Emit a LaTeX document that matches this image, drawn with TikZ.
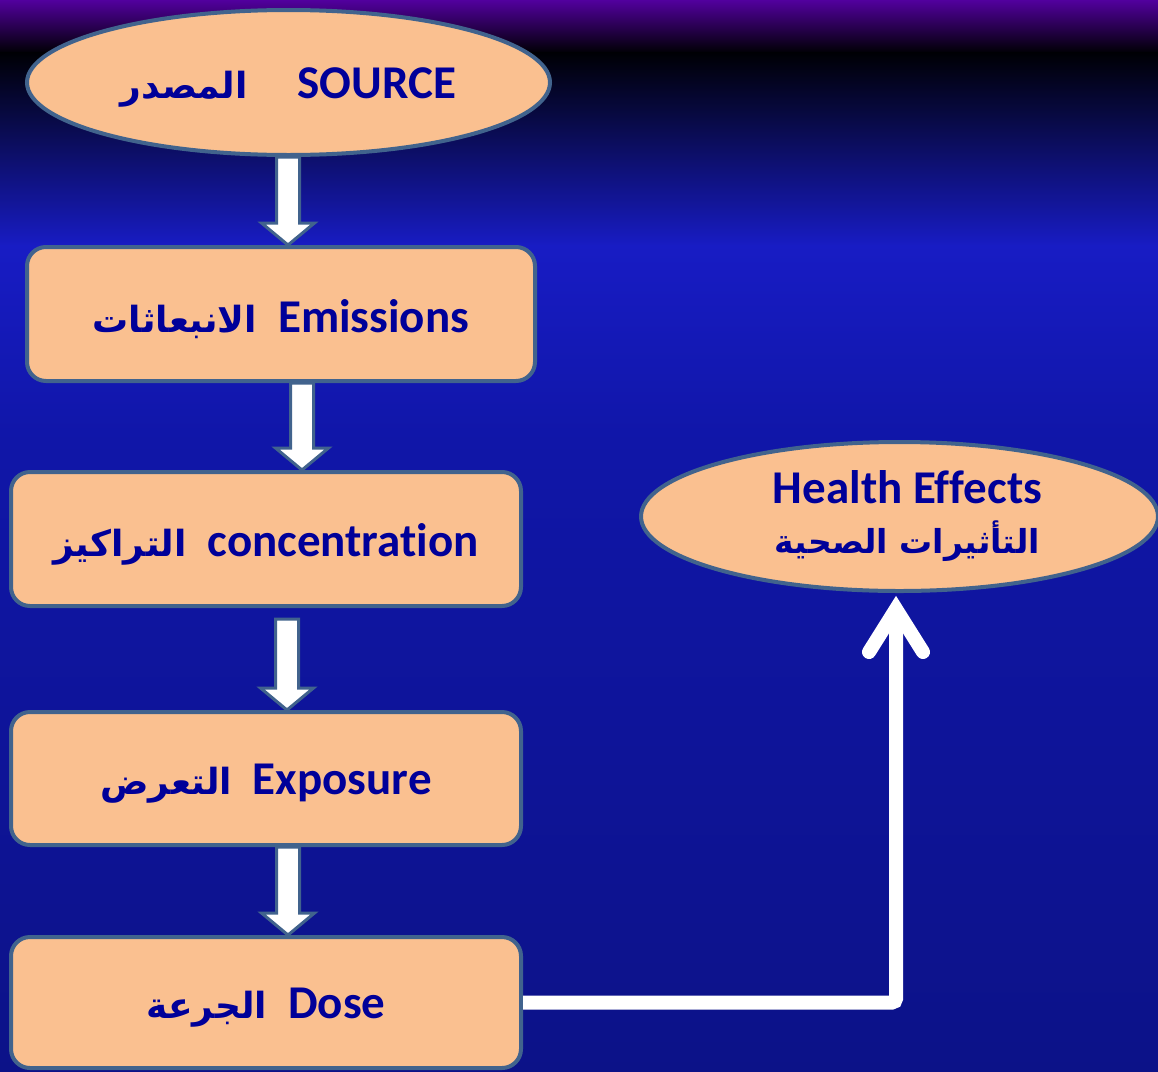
\documentclass[tikz,border=0pt]{standalone}
\usepackage{fontspec}
\setmainfont[Ligatures=NoCommon]{Carlito}
\newfontfamily\arabicfont[Script=Arabic]{DejaVu Sans}
\TeXXeTstate=1
\usetikzlibrary{shapes.geometric,calc}
\definecolor{peach}{HTML}{FAC090}
\definecolor{edgeblue}{HTML}{41638D}
\definecolor{txtblue}{HTML}{000099}
\definecolor{bgA}{HTML}{52009E}
\definecolor{bgB}{HTML}{000004}
\definecolor{bgC}{HTML}{181CC4}
\definecolor{bgD}{HTML}{1016A8}
\definecolor{bgE}{HTML}{0C1288}
\newcommand\blkarrow[2]{%
  \draw[blkarr] ($(#1)+(-11.5,0)$) -- ($(#2)+(-11.5,-22)$) -- ($(#2)+(-26.5,-22)$) -- (#2)
    -- ($(#2)+(26.5,-22)$) -- ($(#2)+(11.5,-22)$) -- ($(#1)+(11.5,0)$) -- cycle;}
\newcommand\ar[2][36]{{\arabicfont\fontsize{#1}{44}\selectfont\beginR #2\endR}}
\newcommand\lowered[1]{\raisebox{-5pt}[\height][\depth]{#1}}
\tikzset{
  shapebox/.style={draw=edgeblue, line width=4pt, fill=peach, text=txtblue,
    font=\fontsize{47}{54}\selectfont\bfseries, inner sep=0pt},
  ovalbox/.style={shapebox, ellipse},
  rectbox/.style={shapebox, rectangle, rounded corners=19pt},
  blkarr/.style={draw=edgeblue, line width=3pt, fill=white, line join=miter},
  conn/.style={draw=white, line width=14pt}
}
\begin{document}
\begin{tikzpicture}[x=1pt,y=-1pt]
\useasboundingbox (0,0) rectangle (1158,1071);
% background
\fill[top color=bgA, bottom color=bgB] (0,0) rectangle (1158,53);
\fill[top color=bgB, bottom color=bgC] (0,52) rectangle (1158,246);
\fill[top color=bgC, bottom color=bgD] (0,245) rectangle (1158,440);
\fill[top color=bgD, bottom color=bgE] (0,439) rectangle (1158,1071);
% nodes
\node[ovalbox, minimum width=523pt, minimum height=145pt] (src) at (288.5,82.5)
  {\lowered{\ar{المصدر}\hspace{50pt}SOURCE}};
\node[rectbox, minimum width=508pt, minimum height=134pt] (emi) at (281,314)
  {\lowered{\ar{الانبعاثات}\hspace{21pt}Emissions}};
\node[rectbox, minimum width=510pt, minimum height=134pt] (con) at (266,539)
  {\lowered{\ar{التراكيز}\hspace{21pt}concentration}};
\node[rectbox, minimum width=510pt, minimum height=133pt] (exp) at (266,778.5)
  {\lowered{\ar{التعرض}\hspace{21pt}Exposure}};
\node[rectbox, minimum width=510pt, minimum height=131pt] (dose) at (266,1002.5)
  {\lowered{\ar{الجرعة}\hspace{21pt}Dose}};
\node[ovalbox, minimum width=517pt, minimum height=149pt, align=center] (he) at (899.5,516.5)
  {\hspace*{16pt}Health Effects\\[-4pt]\hspace*{16pt}\ar[33]{التأثيرات الصحية}};
% block arrows
\coordinate (a1t) at (src.south -| 288,0);
\coordinate (a1b) at (emi.north -| 288,0);
\blkarrow{a1t}{a1b}
\coordinate (a2t) at (emi.south -| 302,0);
\coordinate (a2b) at (con.north -| 302,0);
\blkarrow{a2t}{a2b}
\coordinate (a3t) at ($(con.south -| 287,0)+(0,11)$);
\coordinate (a3b) at (exp.north -| 287,0);
\blkarrow{a3t}{a3b}
\coordinate (a4t) at (exp.south -| 288,0);
\coordinate (a4b) at (dose.north -| 288,0);
\blkarrow{a4t}{a4b}
% connector to health effects
\coordinate (hetip) at ($(he.south -| 896,0)+(0,16)$);
\draw[conn, rounded corners=4pt] (dose.east) -| (hetip);
\draw[conn, line join=miter, line cap=round] ($(hetip)+(-27,43)$) -- (hetip) -- ($(hetip)+(27,43)$);
\end{tikzpicture}
\end{document}
